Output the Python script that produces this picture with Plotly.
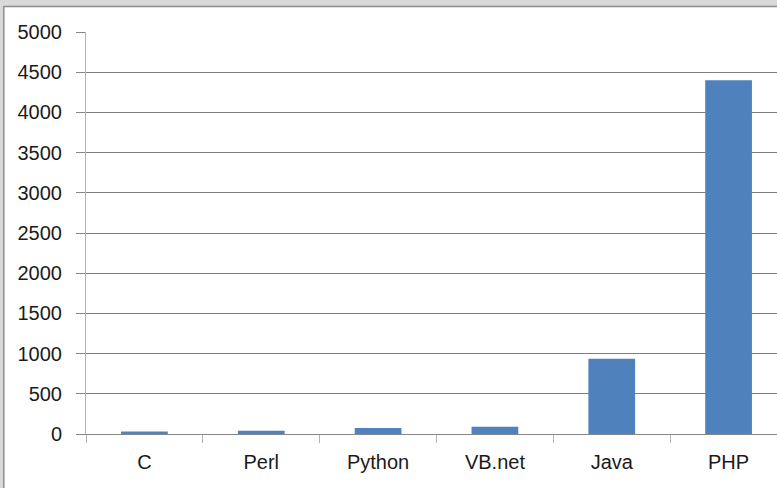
import plotly.graph_objects as go

# Language counts
languages = ["C", "Perl", "Python", "VB.net", "Java", "PHP"]
counts = [30, 40, 75, 90, 935, 4400]
y_ticks = [0, 500, 1000, 1500, 2000, 2500, 3000, 3500, 4000, 4500, 5000]

W, H = 777, 488
L, T, B = 86, 32, 54
plot_w = W - L
plot_h = H - T - B


def px_x(px):
    return (px - L) / plot_w


def px_y(py):
    return (H - B - py) / plot_h


fig = go.Figure(
    go.Bar(
        x=languages,
        y=counts,
        marker=dict(color="#4f81bd", line=dict(width=0)),
    )
)

font = dict(family="Liberation Sans, Arial, sans-serif", size=20, color="#1a1a1a")

fig.update_layout(
    width=W,
    height=H,
    margin=dict(l=L, r=0, t=T, b=B),
    paper_bgcolor="white",
    plot_bgcolor="white",
    bargap=0.6,
    showlegend=False,
    font=font,
    xaxis=dict(
        type="category",
        range=[-0.5, 5.5 - 10 / 116.8],
        showgrid=False,
        showline=True,
        linecolor="#868686",
        linewidth=1,
        ticks="outside",
        tickson="boundaries",
        ticklen=8,
        tickcolor="#b3b3b3",
        tickwidth=1,
        ticklabelstandoff=10,
        zeroline=False,
    ),
    yaxis=dict(
        range=[0, 5000],
        tickvals=y_ticks,
        showgrid=True,
        gridcolor="#7f7f7f",
        gridwidth=1.2,
        showline=True,
        linecolor="#b3b3b3",
        linewidth=1,
        ticks="outside",
        ticklen=9,
        tickcolor="#868686",
        tickwidth=1,
        ticklabelstandoff=10,
        zeroline=False,
    ),
)

# Window frame around the chart area
frame_light = "#d9d9d9"
frame_dark = "#8c8c8c"
shapes = [
    dict(type="rect", xref="paper", yref="paper",
         x0=px_x(0), x1=px_x(W), y0=px_y(0), y1=px_y(6),
         fillcolor=frame_light, line=dict(width=0), layer="above"),
    dict(type="rect", xref="paper", yref="paper",
         x0=px_x(0), x1=px_x(3), y0=px_y(0), y1=px_y(H),
         fillcolor=frame_light, line=dict(width=0), layer="above"),
    dict(type="line", xref="paper", yref="paper",
         x0=px_x(3), x1=px_x(W), y0=px_y(6.5), y1=px_y(6.5),
         line=dict(color=frame_dark, width=1.5), layer="above"),
    dict(type="line", xref="paper", yref="paper",
         x0=px_x(3.8), x1=px_x(3.8), y0=px_y(6), y1=px_y(H),
         line=dict(color=frame_dark, width=1.5), layer="above"),
]
fig.update_layout(shapes=shapes)

fig.write_html("out.html")
